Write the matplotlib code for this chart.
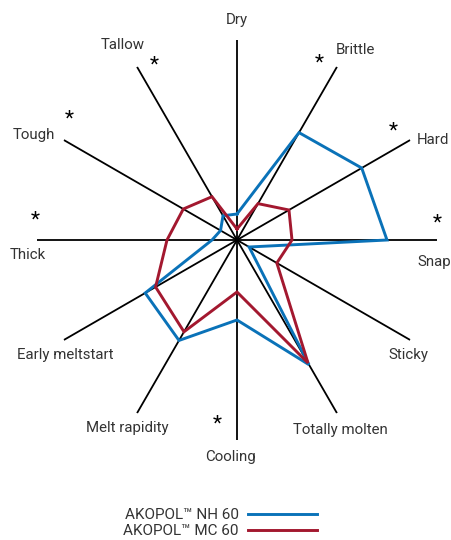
import numpy as np
from matplotlib import pyplot as plt
from matplotlib.lines import Line2D

# attributes, clockwise from the top
attributes = ["Dry", "Brittle", "Hard", "Snap", "Sticky", "Totally molten",
              "Cooling", "Melt rapidity", "Early meltstart", "Thick", "Tough", "Tallow"]
significant = ["Brittle", "Hard", "Snap", "Cooling", "Thick", "Tough", "Tallow"]

series_names = ["AKOPOL\u2122 NH 60", "AKOPOL\u2122 MC 60"]
nh60 = [0.13, 0.62, 0.72, 0.75, 0.07, 0.72, 0.40, 0.58, 0.53, 0.125, 0.095, 0.14]
mc60 = [0.055, 0.21, 0.30, 0.275, 0.23, 0.71, 0.26, 0.53, 0.47, 0.35, 0.31, 0.25]

colors = ["#0a72b8", "#a3182f"]
text_color = "#333333"

# label placement (angle in degrees clockwise from top, radius, alignment)
label_pos = {
    "Dry": (0, 1.10, "center"),
    "Brittle": (31.8, 1.12, "center"),
    "Hard": (60.9, 1.03, "left"),
    "Snap": (97.0, 0.907, "left"),
    "Sticky": (123.9, 1.03, "center"),
    "Totally molten": (151.5, 1.08, "center"),
    "Cooling": (181.6, 1.085, "center"),
    "Melt rapidity": (210.3, 1.089, "center"),
    "Early meltstart": (236.2, 1.034, "center"),
    "Thick": (265.9, 1.048, "center"),
    "Tough": (297.4, 1.143, "center"),
    "Tallow": (329.7, 1.129, "center"),
}
star_pos = {
    "Tallow": (334.6, 0.969),
    "Brittle": (24.9, 0.975),
    "Hard": (55.1, 0.95),
    "Snap": (85.1, 1.004),
    "Tough": (305.8, 1.035),
    "Thick": (275.7, 1.015),
    "Cooling": (186.2, 0.925),
}

plt.rcParams['font.family'] = ['Roboto', 'DejaVu Sans']

fig = plt.figure(figsize=(4.51, 5.40), dpi=100)
ax = fig.add_axes([37 / 451, 100 / 540, 400 / 451, 400 / 540], projection='polar')
ax.set_theta_zero_location('N')
ax.set_theta_direction(-1)
ax.set_ylim(0, 1)
ax.grid(False)
ax.set_xticks([])
ax.set_yticks([])
ax.spines['polar'].set_visible(False)
ax.patch.set_visible(False)

n = len(attributes)
angles = np.arange(n) * 2 * np.pi / n

for a in angles:
    ax.plot([a, a], [0, 1], color='black', lw=1.3, zorder=1, solid_capstyle='butt')

for vals, col in zip([nh60, mc60], colors):
    ax.plot(np.append(angles, angles[0]), vals + vals[:1], color=col, lw=2.1,
            zorder=3, solid_joinstyle='miter')

for name in attributes:
    deg, r, ha = label_pos[name]
    ax.text(np.deg2rad(deg), r, name, ha=ha, va='center', fontsize=10.8,
            color=text_color, clip_on=False)

for name in significant:
    deg, r = star_pos[name]
    ax.text(np.deg2rad(deg), r, "*", ha='center', va='center', fontsize=15,
            color='black', clip_on=False)

handles = [Line2D([], [], color=c, lw=2.1) for c in colors]
fig.legend(handles, series_names, loc='center', bbox_to_anchor=(220 / 451, 1 - 523 / 540),
           frameon=False, markerfirst=False, handlelength=4.5, fontsize=11,
           labelspacing=0.12, handletextpad=0.6, labelcolor=text_color)

plt.savefig("out.png", dpi=100)
